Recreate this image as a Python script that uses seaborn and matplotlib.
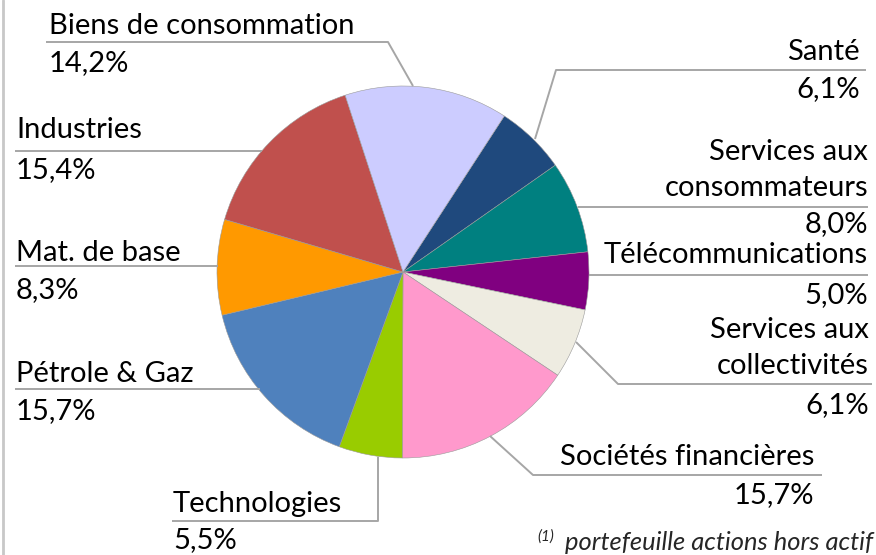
import matplotlib
matplotlib.use("Agg")
import matplotlib.pyplot as plt
import seaborn as sns

# Data (clockwise, starting with Santé)
sectors = ["Santé", "Services aux\nconsommateurs", "Télécommunications",
           "Services aux\ncollectivités", "Sociétés financières", "Technologies",
           "Pétrole & Gaz", "Mat. de base", "Industries", "Biens de consommation"]
values = [6.1, 8.0, 5.0, 6.1, 15.7, 5.5, 15.7, 8.3, 15.4, 14.2]
colors = ["#1F497D", "#008080", "#800080", "#EEECE1", "#FF99CC",
          "#99CC00", "#4F81BD", "#FF9900", "#C0504D", "#CCCCFF"]

# Label layout in pixels: (name x, first name baseline, value baseline, align, leader polyline)
layout = [
    (860, 60, 97, "right", [(866, 70), (556, 70), (535, 139)]),
    (868, 160, 232, "right", [(868, 207), (578, 207)]),
    (868, 263, 303, "right", [(868, 275), (589, 275)]),
    (869, 338, 413, "right", [(872, 384), (618, 384), (576, 342)]),
    (814, 465, 503, "right", [(822, 475), (533, 475), (490, 436)]),
    (173, 512, 548, "left", [(172, 521), (378, 521), (378, 457)]),
    (16, 382, 419, "left", [(15, 389), (260, 389)]),
    (16, 261, 298, "left", [(15, 266), (218, 266)]),
    (16, 138, 178, "left", [(15, 151), (262, 151)]),
    (49, 34, 71, "left", [(46, 42), (388, 42), (413, 86)]),
]

W, H = 876, 555
CX, CY, R = 403, 272, 186

sns.set_theme(style="white")
plt.rcParams["font.family"] = ["Lato", "DejaVu Sans"]

fig = plt.figure(figsize=(W / 100, H / 100), dpi=100)
fig.patch.set_facecolor("white")

# pie axes placed so the pie sits at the right pixel spot
ax = fig.add_axes([(CX - R) / W, (H - CY - R) / H, 2 * R / W, 2 * R / H])
ax.pie(values, colors=colors, startangle=57, counterclock=False,
       wedgeprops=dict(edgecolor="#9a9a9a", linewidth=0.4))
ax.set_xlim(-1, 1)
ax.set_ylim(-1, 1)
ax.axis("off")

# overlay in pixel coords for labels and leader lines
ov = fig.add_axes([0, 0, 1, 1], facecolor="none")
ov.set_xlim(0, W)
ov.set_ylim(H, 0)
ov.axis("off")

fs = 21
for name, val, (x, yn, yv, ha, pts) in zip(sectors, values, layout):
    xs, ys = zip(*pts)
    ov.plot(xs, ys, color="#A6A6A6", lw=1.4, solid_capstyle="butt")
    for i, ln in enumerate(name.split("\n")):
        ov.text(x, yn + i * 36, ln, ha=ha, va="baseline", fontsize=fs, color="black")
    ov.text(x, yv, f"{val:.1f}%".replace(".", ","), ha=ha, va="baseline",
            fontsize=fs, color="black")

# footnote
ov.text(537, 541, "(1)", fontsize=11, style="italic", va="baseline")
ov.text(565, 550, "portefeuille actions hors actif", fontsize=18.4, style="italic",
        va="baseline")

# left border
ov.plot([3, 3], [0, H], color="#C8C8C8", lw=2)

fig.savefig("out.png", dpi=100)
